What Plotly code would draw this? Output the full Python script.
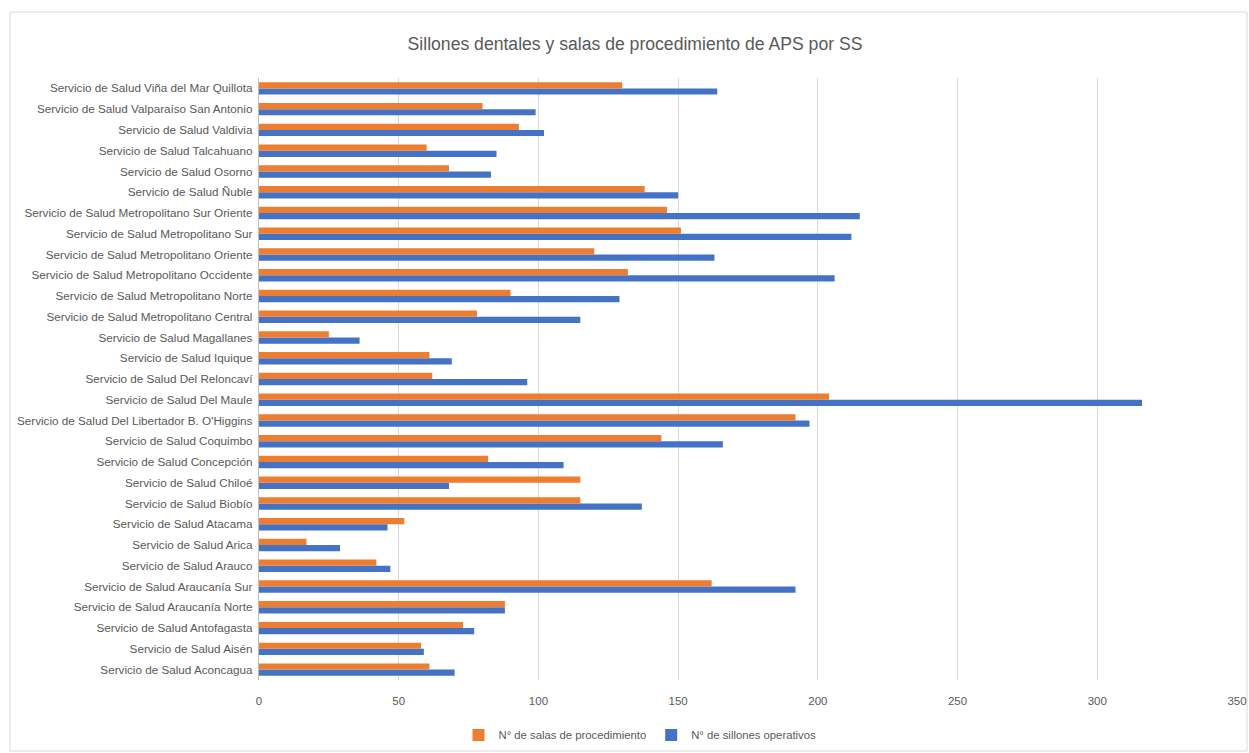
import plotly.graph_objects as go

categories = [
    "Servicio de Salud Aconcagua",
    "Servicio de Salud Aisén",
    "Servicio de Salud Antofagasta",
    "Servicio de Salud Araucanía Norte",
    "Servicio de Salud Araucanía Sur",
    "Servicio de Salud Arauco",
    "Servicio de Salud Arica",
    "Servicio de Salud Atacama",
    "Servicio de Salud Biobío",
    "Servicio de Salud Chiloé",
    "Servicio de Salud Concepción",
    "Servicio de Salud Coquimbo",
    "Servicio de Salud Del Libertador B. O'Higgins",
    "Servicio de Salud Del Maule",
    "Servicio de Salud Del Reloncaví",
    "Servicio de Salud Iquique",
    "Servicio de Salud Magallanes",
    "Servicio de Salud Metropolitano Central",
    "Servicio de Salud Metropolitano Norte",
    "Servicio de Salud Metropolitano Occidente",
    "Servicio de Salud Metropolitano Oriente",
    "Servicio de Salud Metropolitano Sur",
    "Servicio de Salud Metropolitano Sur Oriente",
    "Servicio de Salud Ñuble",
    "Servicio de Salud Osorno",
    "Servicio de Salud Talcahuano",
    "Servicio de Salud Valdivia",
    "Servicio de Salud Valparaíso San Antonio",
    "Servicio de Salud Viña del Mar Quillota",
]

salas_procedimiento = [61, 58, 73, 88, 162, 42, 17, 52, 115, 115, 82, 144, 192, 204, 62,
                       61, 25, 78, 90, 132, 120, 151, 146, 138, 68, 60, 93, 80, 130]
sillones_operativos = [70, 59, 77, 88, 192, 47, 29, 46, 137, 68, 109, 166, 197, 316, 96,
                       69, 36, 115, 129, 206, 163, 212, 215, 150, 83, 85, 102, 99, 164]

x_ticks = [0, 50, 100, 150, 200, 250, 300, 350]

series_names = ["N° de salas de procedimiento", "N° de sillones operativos"]

ORANGE = "#ED7D31"
BLUE = "#4472C4"
GRAY = "#595959"
FONT = "Liberation Sans, Arial, sans-serif"

fig = go.Figure()
fig.add_trace(go.Bar(
    y=categories, x=sillones_operativos, orientation="h", name=series_names[1],
    marker=dict(color=BLUE, line=dict(width=0)),
))
fig.add_trace(go.Bar(
    y=categories, x=salas_procedimiento, orientation="h", name=series_names[0],
    marker=dict(color=ORANGE, line=dict(width=0)),
))

W, H = 1249, 753
L, R, T, B = 259, 12, 78, 73
pw = W - L - R
ph = H - T - B

def px_x(v):
    return (v - L) / pw

def px_y(v):
    return (H - B - v) / ph

fig.update_layout(
    width=W, height=H,
    margin=dict(l=L, r=R, t=T, b=B, autoexpand=False),
    paper_bgcolor="white", plot_bgcolor="white",
    barmode="group", bargap=0.4, bargroupgap=0,
    title=dict(text="Sillones dentales y salas de procedimiento de APS por SS",
               x=635 / W, xref="container", xanchor="center",
               y=1 - 44 / H, yref="container", yanchor="middle",
               font=dict(family=FONT, size=17.6, color=GRAY)),
    font=dict(family=FONT, size=11.7, color=GRAY),
    xaxis=dict(range=[0, 350], tickvals=x_ticks, showgrid=True, gridcolor="#D9D9D9",
               gridwidth=1, zeroline=False, showline=False, ticks="", automargin=False,
               ticklabelstandoff=12,
               tickfont=dict(family=FONT, size=11.5, color=GRAY), fixedrange=True),
    yaxis=dict(categoryorder="array", categoryarray=categories, showgrid=False,
               showline=True, linecolor="#BFBFBF", linewidth=1, ticks="",
               automargin=False, ticksuffix=" ",
               tickfont=dict(family=FONT, size=11.7, color=GRAY)),
    legend=dict(orientation="h", traceorder="reversed",
                x=640 / W, xref="container", xanchor="center",
                y=1 - 735 / H, yref="container", yanchor="middle",
                font=dict(family=FONT, size=11.3, color=GRAY)),
    shapes=[dict(type="rect", xref="paper", yref="paper",
                 x0=px_x(10), x1=px_x(1247), y0=px_y(751), y1=px_y(12),
                 line=dict(color="#D9D9D9", width=1), layer="below")],
)

fig.write_html("out.html", config={"displayModeBar": False},
               post_script="document.body.style.margin='0px';")
